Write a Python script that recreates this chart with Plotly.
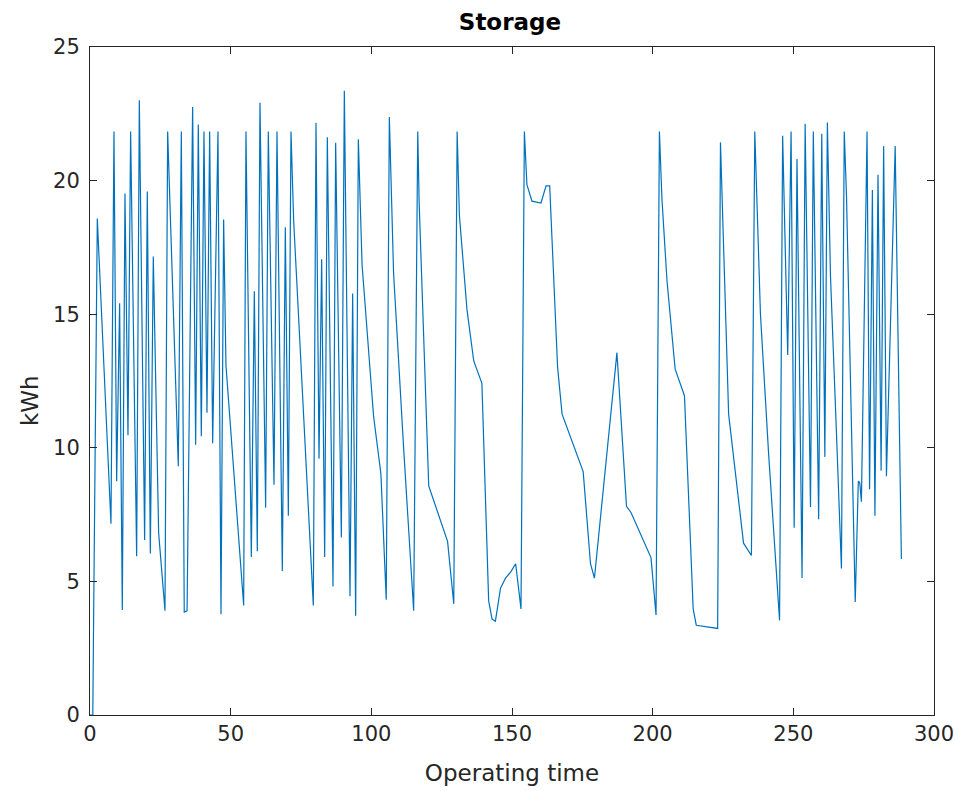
import plotly.graph_objects as go

# Storage level over operating time (vertices of the trace)
operating_time = [
    0, 1, 1.3, 2.6, 7.45, 8.52, 9.47, 10.53, 11.48, 12.43, 13.5, 14.44, 16.58,
    17.53, 19.42, 20.37, 21.44, 22.5, 24.4, 26.65, 27.6, 31.39, 32.46, 33.5,
    34.5, 36.48, 37.55, 38.5, 39.57, 40.51, 41.58, 42.53, 43.6, 45.49, 46.56,
    47.5, 48.33, 54.62, 55.44, 57.34, 58.41, 59.47, 60.42, 62.43, 63.38, 65.4,
    66.47, 68.36, 69.43, 70.5, 71.44, 72.39, 79.38, 80.33, 81.4, 82.34, 83.41,
    84.36, 86.37, 87.32, 89.34, 90.4, 92.42, 93.36, 94.43, 95.38, 96.7, 100.8,
    103.4, 105.3, 106.4, 107.35, 107.9, 111.5, 115.05, 116.5, 117.0, 120.4,
    127.1, 129.3, 130.5, 131.3, 134.0, 136.4, 139.3, 141.7, 142.9, 144.1,
    145.9, 147.7, 149.5, 151.3, 153.2, 154.4, 155.3, 157.1, 160.3, 162.1,
    163.4, 166.2, 167.8, 175.3, 177.9, 179.3, 187.3, 190.7, 192.3, 199.4,
    201.2, 202.4, 203.3, 205.1, 208.0, 211.3, 214.4, 215.5, 218.7, 223.1,
    224.1, 225.3, 227.0, 232.3, 235.1, 236.3, 238.3, 241.2, 245.1, 246.2,
    248.0, 249.2, 250.3, 251.3, 253.1, 254.2, 256.1, 257.1, 259.0, 260.1,
    261.2, 262.1, 263.2, 265.3, 267.1, 268.1, 268.9, 272.0, 273.1, 273.6,
    274.2, 276.2, 277.1, 278.1, 279.0, 280.1, 281.2, 282.1, 283.1, 286.2,
    288.4,
]
storage_kwh = [
    0, 0, 3.8, 18.58, 7.16, 21.84, 8.75, 15.41, 3.93, 19.52, 10.47, 21.84, 5.94,
    23.01, 6.55, 19.59, 6.04, 17.16, 6.81, 3.9, 21.84, 9.31, 21.84, 3.85,
    3.9, 22.75, 10.11, 22.1, 10.43, 21.84, 11.31, 21.84, 10.17, 21.84, 3.77,
    18.54, 13.08, 4.1, 21.84, 5.91, 15.86, 6.13, 22.91, 7.76, 21.84, 8.62,
    21.84, 5.39, 18.25, 7.46, 21.84, 18.5, 4.1, 22.16, 9.59, 17.06, 5.91,
    21.62, 4.81, 21.42, 6.64, 23.36, 4.44, 15.77, 3.71, 21.55, 16.86, 11.18,
    9.03, 4.31, 22.38, 18.08, 16.55, 9.95, 3.9, 21.84, 19.16, 8.57,
    6.5, 4.16, 21.84, 18.7, 15.17, 13.25, 12.41, 4.28, 3.59, 3.51,
    4.74, 5.12, 5.35, 5.66, 3.97, 21.84, 19.85, 19.23, 19.16, 19.8,
    19.8, 13.02, 11.26, 9.11, 5.66, 5.12, 13.56, 7.81, 7.58, 5.89,
    3.74, 21.84, 19.31, 16.24, 12.94, 11.95, 3.97, 3.36, 3.31, 3.24,
    21.43, 16.85, 11.26, 6.43, 5.97, 21.84, 15.02, 9.8, 3.54, 21.68,
    13.47, 21.84, 7.01, 20.81, 5.13, 22.13, 7.78, 21.84, 7.33, 21.75,
    9.66, 22.17, 16.44, 10.63, 5.48, 21.84, 19.42, 4.23, 8.75, 8.7,
    7.98, 21.84, 8.45, 19.65, 7.46, 20.22, 9.14, 21.29, 8.94, 21.29,
    5.84,
]

x_ticks = [0, 50, 100, 150, 200, 250, 300]
y_ticks = [0, 5, 10, 15, 20, 25]

AXIS_COLOR = "#262626"
FONT = "DejaVu Sans, Arial, sans-serif"

fig = go.Figure(
    go.Scatter(
        x=operating_time,
        y=storage_kwh,
        mode="lines",
        line=dict(color="#0072BD", width=1.2),
        hoverinfo="x+y",
    )
)

axis_common = dict(
    showgrid=False,
    zeroline=False,
    showline=True,
    linecolor=AXIS_COLOR,
    linewidth=1,
    mirror="ticks",
    ticks="inside",
    ticklen=7,
    tickwidth=1,
    tickcolor=AXIS_COLOR,
    tickfont=dict(family=FONT, size=21, color=AXIS_COLOR),
)

fig.update_xaxes(
    range=[0, 300],
    tickvals=x_ticks,
    ticktext=[str(v) for v in x_ticks],
    title=dict(text="Operating time", font=dict(family=FONT, size=23, color=AXIS_COLOR), standoff=19),
    **axis_common,
)
fig.update_yaxes(
    range=[0, 25],
    tickvals=y_ticks,
    ticktext=[str(v) for v in y_ticks],
    ticklabelstandoff=5,
    **axis_common,
)

# y-axis title placed as a rotated annotation left of the tick labels
fig.add_annotation(
    text="kWh",
    xref="paper",
    yref="paper",
    x=0,
    y=0.47,
    xanchor="center",
    yanchor="middle",
    xshift=-60,
    textangle=-90,
    showarrow=False,
    font=dict(family=FONT, size=23, color=AXIS_COLOR),
)

fig.update_layout(
    width=955,
    height=791,
    margin=dict(l=90, r=21, t=47, b=76, autoexpand=False),
    paper_bgcolor="white",
    plot_bgcolor="white",
    showlegend=False,
    title=dict(
        text="<b>Storage</b>",
        x=0.534,
        xanchor="center",
        y=0.972,
        yanchor="middle",
        font=dict(family=FONT, size=23, color="black"),
    ),
)

fig.write_html("out.html")
